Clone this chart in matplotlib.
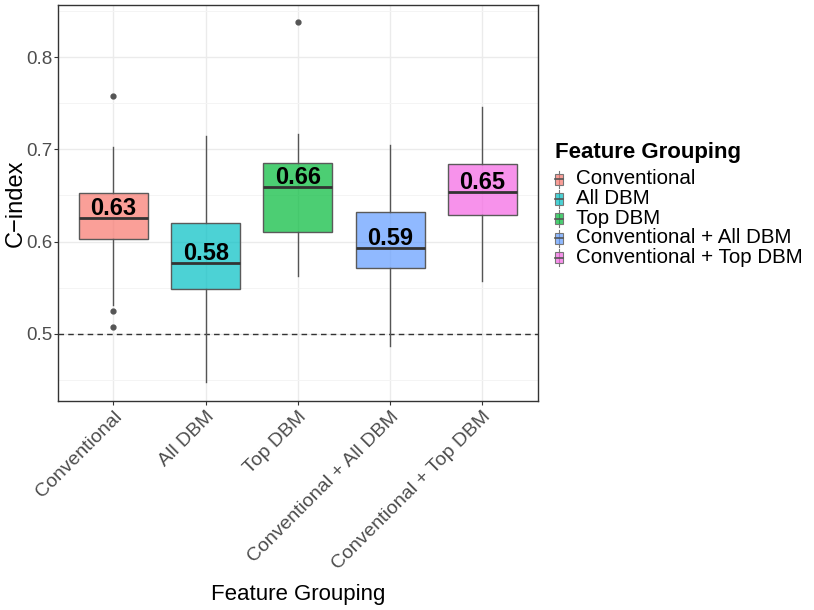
import matplotlib.pyplot as plt
from matplotlib.patches import Rectangle, Patch
from matplotlib.lines import Line2D
from matplotlib.legend_handler import HandlerBase

plt.rcParams['font.family'] = ['Liberation Sans', 'DejaVu Sans']

groups = ['Conventional', 'All DBM', 'Top DBM', 'Conventional + All DBM', 'Conventional + Top DBM']
colors = ['#F8766D', '#00BFC4', '#00BA38', '#619CFF', '#F564E3']

# box stats
q1 = [0.603, 0.548, 0.610, 0.571, 0.629]
med = [0.626, 0.577, 0.659, 0.593, 0.654]
q3 = [0.653, 0.620, 0.685, 0.632, 0.684]
whislo = [0.531, 0.447, 0.562, 0.486, 0.557]
whishi = [0.703, 0.715, 0.717, 0.705, 0.746]
fliers = [[0.758, 0.524, 0.507], [], [0.838], [], []]

stats = []
for i in range(len(groups)):
    stats.append(dict(med=med[i], q1=q1[i], q3=q3[i], whislo=whislo[i],
                      whishi=whishi[i], fliers=fliers[i], label=groups[i]))

fig = plt.figure(figsize=(8.14, 6.10), dpi=100)
ax = fig.add_axes([0.0713, 0.3431, 0.5893, 0.6487])

pos = list(range(1, len(groups) + 1))
bp = ax.bxp(stats, positions=pos, widths=0.75, patch_artist=True, showcaps=False,
            boxprops=dict(edgecolor='#5a5a5a', linewidth=1.0),
            whiskerprops=dict(color='#555555', linewidth=1.0),
            medianprops=dict(color='#333333', linewidth=2.0),
            flierprops=dict(marker='o', markerfacecolor='#555555', markeredgecolor='#555555',
                            markersize=3.5, linestyle='none'),
            zorder=3)
for patch, c in zip(bp['boxes'], colors):
    patch.set_facecolor(c)
    fc = patch.get_facecolor()
    patch.set_facecolor((fc[0], fc[1], fc[2], 0.7))

for i in range(len(groups)):
    ax.text(pos[i], med[i] + 0.003, '%.2f' % med[i], ha='center', va='baseline',
            fontsize=17, fontweight='bold', color='black', zorder=5)

ax.axhline(0.5, color='#333333', linestyle=(0, (4, 3)), linewidth=1.0, zorder=2)

ax.set_xlim(0.4, 5.6)
ax.set_ylim(0.427, 0.857)
ax.set_yticks([0.5, 0.6, 0.7, 0.8])
ax.set_yticklabels(['0.5', '0.6', '0.7', '0.8'])
ax.set_yticks([0.45, 0.55, 0.65, 0.75, 0.85], minor=True)
ax.set_xticks(pos)
ax.set_xticklabels(groups, rotation=45, ha='right', va='top', rotation_mode='anchor')
ax.grid(True, which='major', color='#EBEBEB', linewidth=1.0, zorder=0)
ax.grid(True, which='minor', axis='y', color='#F4F4F4', linewidth=0.7, zorder=0)
ax.set_axisbelow(True)
ax.tick_params(axis='both', which='major', length=3, color='#333333',
               labelcolor='#4D4D4D')
ax.tick_params(axis='x', labelsize=14, pad=2.5)
ax.tick_params(axis='y', labelsize=13.5, pad=1)
ax.tick_params(axis='y', which='minor', length=0)
for s in ax.spines.values():
    s.set_color('#333333')
    s.set_linewidth(1.0)

ax.set_ylabel('C\u2212index', fontsize=17)
ax.yaxis.label.set_va('center')
ax.yaxis.set_label_coords(-0.088, 0.5)
ax.set_xlabel('Feature Grouping', fontsize=16, labelpad=8)


class BoxKey(HandlerBase):
    def create_artists(self, legend, orig, xd, yd, w, h, fontsize, trans):
        cx = xd + w / 2
        r = Rectangle((xd, yd + h * 0.05), w, h * 0.9, facecolor=orig.get_facecolor(),
                      edgecolor='#777777', linewidth=0.8, transform=trans)
        vl = Line2D([cx, cx], [yd - h * 0.2, yd + h * 1.2], color='#777777', linewidth=0.8,
                    transform=trans)
        ml = Line2D([xd, xd + w], [yd + h / 2, yd + h / 2], color='#555555', linewidth=1.2,
                    transform=trans)
        return [vl, r, ml]


handles = [Patch(facecolor=c, alpha=0.7) for c in colors]
leg = fig.legend(handles, groups, handler_map={Patch: BoxKey()},
                 loc='upper left', bbox_to_anchor=(0.682, 0.768), frameon=False,
                 fontsize=14.8, title='Feature Grouping',
                 title_fontproperties={'weight': 'bold', 'size': 16},
                 handlelength=0.4, handleheight=0.55, handletextpad=0.6,
                 labelspacing=0.03, borderaxespad=0, borderpad=0)
leg._legend_box.align = 'left'
leg._legend_box.sep = 5

fig.savefig('out.png', dpi=100)
